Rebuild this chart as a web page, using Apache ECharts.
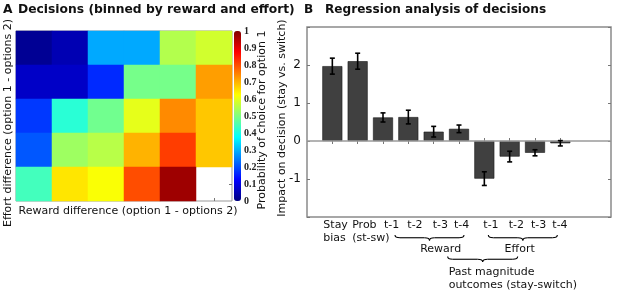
<!DOCTYPE html>
<html>
<head>
<meta charset="utf-8">
<script src="https://cdn.jsdelivr.net/npm/echarts@6/dist/echarts.min.js"></script>
<style>
html,body{margin:0;padding:0;background:#fff;}
#c{width:617px;height:297px;}
</style>
</head>
<body>
<div id="c"></div>
<script>
// ---------- Data ----------
// Panel A: probability of choosing option 1, rows = effort bins (top to bottom), cols = reward bins
const rewardBins = ['1', '2', '3', '4', '5', '6'];
const effortBins = ['1', '2', '3', '4', '5'];
const heatRow1 = [0.02, 0.05, 0.29, 0.29, 0.55, 0.58];
const heatRow2 = [0.07, 0.07, 0.165, 0.49, 0.49, 0.72];
const heatRow3 = [0.18, 0.415, 0.485, 0.60, 0.74, 0.68];
const heatRow4 = [0.21, 0.53, 0.555, 0.70, 0.815, 0.68];
const heatRow5 = [0.44, 0.65, 0.62, 0.80, 0.97, null];
const colorbarTicks = [0, 0.1, 0.2, 0.3, 0.4, 0.5, 0.6, 0.7, 0.8, 0.9, 1];

// Panel B: regression weights with error bars
const barLabels = ['Stay\nbias', 'Prob\n(st-sw)', 't-1', 't-2', 't-3', 't-4', 't-1', 't-2', 't-3', 't-4'];
const barValues = [1.97, 2.10, 0.62, 0.63, 0.245, 0.32, -0.99, -0.41, -0.31, -0.06];
const barErrors = [0.21, 0.21, 0.12, 0.18, 0.14, 0.10, 0.18, 0.14, 0.08, 0.07];
const yTickLabels = ['-1', '0', '1', '2'];

// ---------- Build ----------
const heatRows = [heatRow1, heatRow2, heatRow3, heatRow4, heatRow5];
const heatData = [];
heatRows.forEach((row, r) => row.forEach((v, c) => { if (v !== null) heatData.push([c, r, v]); }));

// bar slots: 0 and 11,12 are empty padding slots
const slotCount = barValues.length + 3;
const slots = Array.from({length: slotCount}, (_, i) => String(i));
const barSeriesData = slots.map((s, i) => (i >= 1 && i <= barValues.length) ? barValues[i - 1] : '-');
const errData = barValues.map((v, i) => [i + 1, v, barErrors[i]]);

const jet = ['#000080', '#0000ff', '#0080ff', '#00ffff', '#80ff80', '#ffff00', '#ff8000', '#ff0000', '#800000'];
const FONT = 'DejaVu Sans';
const TXT = '#111';
const tickStyle = {color: '#777', width: 1};

const chart = echarts.init(document.getElementById('c'), null, {renderer: 'canvas'});

const option = {
  animation: false,
  backgroundColor: '#fff',
  textStyle: {fontFamily: FONT},
  grid: [
    {left: 16, top: 31, width: 216, height: 170, show: true, borderColor: '#999', borderWidth: 1, backgroundColor: '#fff'},
    {left: 307, top: 27, width: 304, height: 190, show: true, borderColor: '#8a8a8a', borderWidth: 1.5, backgroundColor: '#fff'},
    {left: 234, top: 31, width: 7, height: 170, show: false}
  ],
  xAxis: [
    {type: 'category', gridIndex: 0, data: rewardBins, position: 'bottom',
     axisLine: {show: false}, axisLabel: {show: false}, splitLine: {show: false},
     axisTick: {show: true, inside: true, length: 3, alignWithLabel: true, lineStyle: tickStyle}},
    {type: 'category', gridIndex: 0, data: rewardBins, position: 'top',
     axisLine: {show: false}, axisLabel: {show: false}, splitLine: {show: false},
     axisTick: {show: true, inside: true, length: 3, alignWithLabel: true, lineStyle: tickStyle}},
    {type: 'category', gridIndex: 1, data: slots, boundaryGap: false, position: 'bottom',
     axisLine: {show: false}, axisLabel: {show: false}, splitLine: {show: false},
     axisTick: {show: true, inside: true, length: 3, interval: (i) => i >= 1 && i <= barValues.length, lineStyle: tickStyle}},
    {type: 'category', gridIndex: 1, data: slots, boundaryGap: false, position: 'top',
     axisLine: {show: false}, axisLabel: {show: false}, splitLine: {show: false},
     axisTick: {show: true, inside: true, length: 3, interval: (i) => i >= 1 && i <= barValues.length, lineStyle: tickStyle}},
    {type: 'value', gridIndex: 2, show: false}
  ],
  yAxis: [
    {type: 'category', gridIndex: 0, data: effortBins, inverse: true, position: 'left',
     axisLine: {show: false}, axisLabel: {show: false}, splitLine: {show: false},
     axisTick: {show: true, inside: true, length: 3, alignWithLabel: true, lineStyle: tickStyle}},
    {type: 'category', gridIndex: 0, data: effortBins, inverse: true, position: 'right',
     axisLine: {show: false}, axisLabel: {show: false}, splitLine: {show: false},
     axisTick: {show: true, inside: true, length: 3, alignWithLabel: true, lineStyle: tickStyle}},
    {type: 'value', gridIndex: 2, min: colorbarTicks[0], max: colorbarTicks[colorbarTicks.length - 1], interval: 0.1,
     position: 'right', axisLine: {show: false}, splitLine: {show: false},
     axisTick: {show: false},
     axisLabel: {margin: 3, fontFamily: 'Liberation Serif', fontWeight: 'bold', fontSize: 10, color: '#222',
       formatter: (v) => { const r = Math.round(v * 10) / 10; return r === 0 ? '0' : (r === 1 ? '1' : r.toFixed(1)); }}},
    {type: 'value', gridIndex: 1, min: -2, max: 3, interval: 1, position: 'left',
     axisLine: {show: false}, splitLine: {show: false},
     axisTick: {show: true, inside: true, length: 3, lineStyle: tickStyle},
     axisLabel: {margin: 6, fontFamily: FONT, fontSize: 12, color: TXT,
       formatter: (v) => { const s = String(Math.round(v)); return yTickLabels.indexOf(s) >= 0 ? s : ''; }}},
    {type: 'value', gridIndex: 1, min: -2, max: 3, interval: 1, position: 'right',
     axisLine: {show: false}, splitLine: {show: false}, axisLabel: {show: false},
     axisTick: {show: true, inside: true, length: 3, lineStyle: tickStyle}}
  ],
  visualMap: [{
    type: 'continuous', seriesIndex: 0, dimension: 2, min: 0, max: 1,
    orient: 'vertical', left: 234, top: 31, itemWidth: 7, itemHeight: 170,
    padding: 0, calculable: false, hoverLink: false, showLabel: false,
    inRange: {color: jet}, textStyle: {fontSize: 0}
  }],
  series: [
    {type: 'heatmap', xAxisIndex: 0, yAxisIndex: 0, data: heatData,
     itemStyle: {borderWidth: 0}, emphasis: {disabled: true}},
    {type: 'bar', xAxisIndex: 2, yAxisIndex: 3, data: barSeriesData, barWidth: 20,
     itemStyle: {color: '#404040', borderColor: '#1a1a1a', borderWidth: 0.6},
     markLine: {silent: true, symbol: 'none', label: {show: false},
       lineStyle: {color: '#9a9a9a', type: 'solid', width: 1.5}, data: [{yAxis: 0}]},
     z: 2},
    {type: 'custom', xAxisIndex: 2, yAxisIndex: 3, data: errData, z: 5,
     renderItem: function (params, api) {
       const x = api.value(0), v = api.value(1), e = api.value(2);
       const hi = api.coord([x, v + e]);
       const lo = api.coord([x, v - e]);
       const cap = 2.5;
       const st = {stroke: '#000', lineWidth: 1.6};
       return {type: 'group', children: [
         {type: 'line', shape: {x1: hi[0], y1: hi[1], x2: lo[0], y2: lo[1]}, style: st},
         {type: 'line', shape: {x1: hi[0] - cap, y1: hi[1], x2: hi[0] + cap, y2: hi[1]}, style: st},
         {type: 'line', shape: {x1: lo[0] - cap, y1: lo[1], x2: lo[0] + cap, y2: lo[1]}, style: st}
       ]};
     }}
  ]
};
chart.setOption(option);

// ---------- Annotations (titles, axis names, bar labels, braces) ----------
function txt(text, x, y, opts) {
  opts = opts || {};
  const align = opts.align || 'left';
  const va = opts.va || 'middle';
  return {
    type: 'text', x: x, y: y, rotation: opts.rot || 0, silent: true,
    style: {
      text: text, fill: opts.color || TXT,
      font: (opts.bold ? 'bold ' : '') + (opts.size || 11) + 'px "' + (opts.family || FONT) + '"',
      align: align, verticalAlign: va, textAlign: align, textVerticalAlign: va,
      lineHeight: opts.lh || undefined
    }
  };
}
function brace(x1, x2, y, h) {
  const m = (x1 + x2) / 2, r = 5, yh = y + h / 2, yt = y + h;
  const st = {stroke: '#000', lineWidth: 1.1, fill: null};
  const q = (ax, ay, cx, cy, bx, by) => ({type: 'bezierCurve', silent: true,
    shape: {x1: ax, y1: ay, cpx1: cx, cpy1: cy, x2: bx, y2: by}, style: st});
  const l = (ax, ay, bx, by) => ({type: 'line', silent: true,
    shape: {x1: ax, y1: ay, x2: bx, y2: by}, style: st});
  return [
    q(x1, y, x1, yh, x1 + r, yh),
    l(x1 + r, yh, m - r, yh),
    q(m - r, yh, m, yh, m, yt),
    q(m, yt, m, yh, m + r, yh),
    l(m + r, yh, x2 - r, yh),
    q(x2 - r, yh, x2, yh, x2, y)
  ];
}
const px = (slot) => chart.convertToPixel({xAxisIndex: 2}, slot);
const labelNudge = [-9, -5.5, 1, -1, -1, -5, -1, -1, -4, -8];

const g = [];
g.push(txt('A', 3, 10, {bold: true, size: 12.3}));
g.push(txt('Decisions (binned by reward and effort)', 18, 10, {bold: true, size: 12.3}));
g.push(txt('B', 304, 10, {bold: true, size: 12.1}));
g.push(txt('Regression analysis of decisions', 325, 10, {bold: true, size: 12.1}));
g.push(txt('Reward difference (option 1 - options 2)', 128, 211, {align: 'center'}));
g.push(txt('Effort difference (option 1 - options 2)', 8, 123, {align: 'center', rot: Math.PI / 2}));
g.push(txt('Probability of choice for option 1', 262, 120, {align: 'center', rot: Math.PI / 2}));
g.push(txt('Impact on decision (stay vs. switch)', 282, 118, {align: 'center', rot: Math.PI / 2}));

barLabels.forEach((lab, i) => {
  g.push(txt(lab, px(i + 1) + labelNudge[i], 219, {va: 'top', lh: 12.7}));
});

const yb1 = 235, yb2 = 256.5;
brace(px(3) + 12, px(6) + 5, yb1, 5.5).forEach(e => g.push(e));
brace(px(7) + 4, px(10) - 3, yb1, 5.5).forEach(e => g.push(e));
g.push(txt('Reward', px(5) + 7, 249.5, {align: 'center'}));
g.push(txt('Effort', px(8) + 10, 249.5, {align: 'center'}));
brace(px(5) + 14, px(8) + 8, yb2, 5.5).forEach(e => g.push(e));
g.push(txt('Past magnitude\noutcomes (stay-switch)', px(5) + 15, 266, {va: 'top', lh: 12.5}));

chart.setOption({graphic: {elements: g}});
</script>
</body>
</html>
